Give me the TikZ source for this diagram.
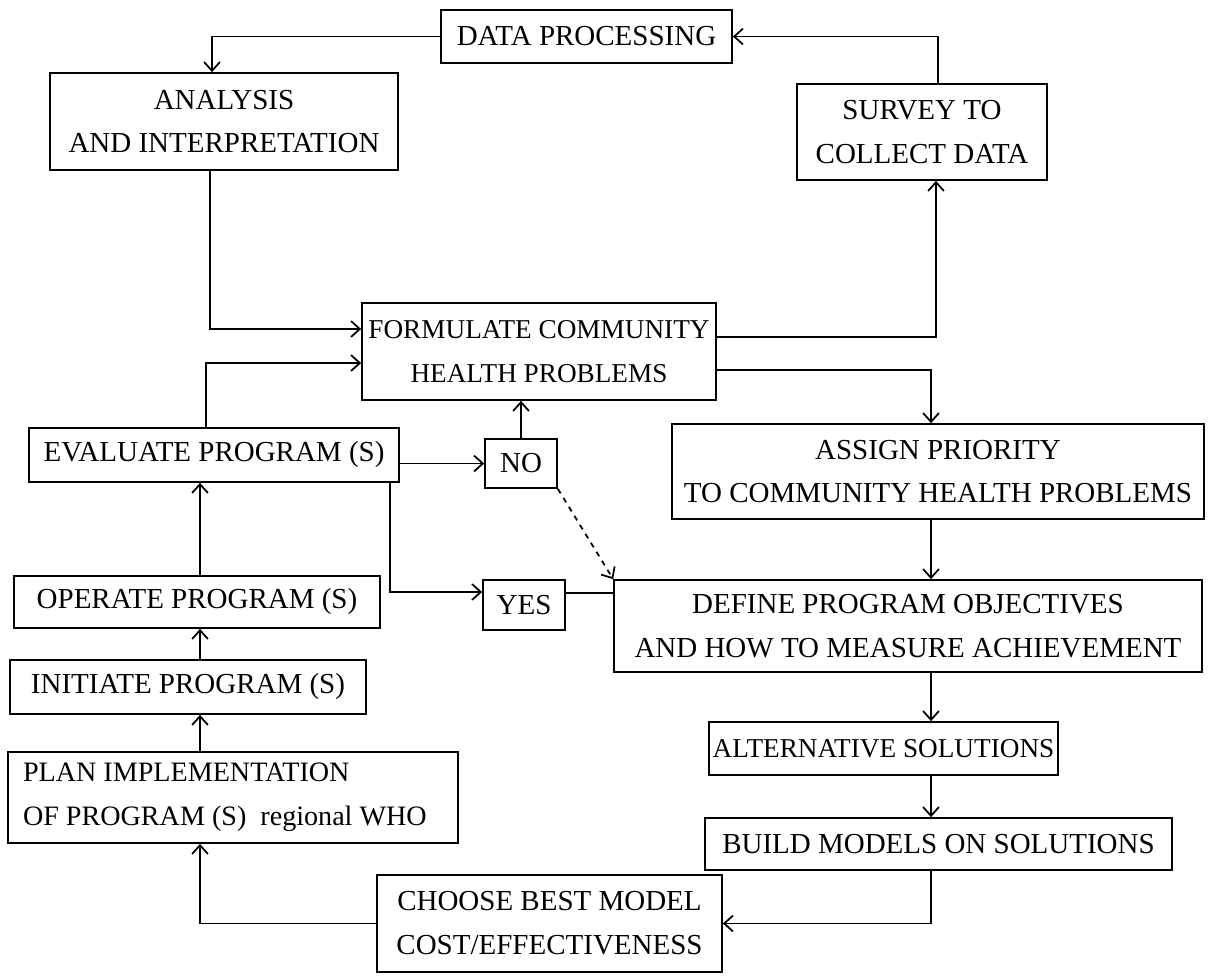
\documentclass[tikz,border=0pt]{standalone}
\usepackage{fontspec}
\setmainfont{Liberation Serif}
\usetikzlibrary{arrows.meta}

\tikzset{
	stage/.style={draw, line width=1pt, font=\fontsize{16.5}{25}\selectfont, align=center, inner sep=2pt},
	narrow/.style={font=\fontsize{15.5}{25}\selectfont},
	arr/.style={line width=1pt, ->, >={Straight Barb[length=5pt,width=9pt]}},
	link/.style={line width=1pt},
}

\begin{document}
\begin{tikzpicture}[x=0.02cm, y=-0.02cm]
	\useasboundingbox (0,0) rectangle (1214,975);
	% columns for the long vertical connectors
	\coordinate (lcol) at (200,0);
	\coordinate (rcol) at (931,0);

	\node[stage, minimum width=5.82cm, minimum height=1.06cm] (dp) at (586.5,36.5) {DATA PROCESSING};
	\node[stage, minimum width=6.96cm, minimum height=1.94cm] (ana) at (224,121.5) {ANALYSIS\\AND INTERPRETATION};
	\node[stage, minimum width=5.0cm, minimum height=1.92cm] (srv) at (922,132) {SURVEY TO\\COLLECT DATA};
	\node[stage, narrow, minimum width=7.08cm, minimum height=1.94cm] (form) at (539,351.5) {FORMULATE COMMUNITY\\HEALTH PROBLEMS};
	\node[stage, minimum width=7.4cm, minimum height=1.08cm] (eval) at (214,455) {EVALUATE PROGRAM (S)};
	\node[stage, minimum width=1.44cm, minimum height=0.98cm] (no) at (521,463.5) {NO};
	\node[stage, minimum width=10.64cm, minimum height=1.9cm] (asg) at (938,471.5) {ASSIGN PRIORITY\\TO COMMUNITY HEALTH PROBLEMS};
	\node[stage, minimum width=1.64cm, minimum height=1.0cm] (yes) at (524,605) {YES};
	\node[stage, minimum width=11.76cm, minimum height=1.84cm] (def) at (908,626) {DEFINE PROGRAM OBJECTIVES\\AND HOW TO MEASURE ACHIEVEMENT};
	\node[stage, minimum width=7.32cm, minimum height=1.04cm] (op) at (197,602) {OPERATE PROGRAM (S)};
	\node[stage, minimum width=7.12cm, minimum height=1.08cm] (ini) at (188,687) {INITIATE PROGRAM (S)};
	\node[stage, narrow, minimum width=6.7cm, minimum height=1.06cm] (alt) at (883.5,748.5) {ALTERNATIVE SOLUTIONS};
	\node[stage, align=flush left, font=\fontsize{16}{25}\selectfont, text width=8.4cm, inner xsep=0.3cm, minimum height=1.82cm] (plan) at (233,797.5) {PLAN IMPLEMENTATION\\OF PROGRAM (S) \ regional WHO};
	\node[stage, minimum width=9.34cm, minimum height=1.04cm] (bld) at (938.5,844) {BUILD MODELS ON SOLUTIONS};
	\node[stage, minimum width=6.9cm, minimum height=1.94cm] (cho) at (549.5,923.5) {CHOOSE BEST MODEL\\COST/EFFECTIVENESS};

	% top loop
	\draw[arr] ([xshift=0.32cm]srv.north) |- (dp.east);
	\draw[arr] (dp.west) -| ([xshift=-0.24cm]ana.north);
	\draw[arr] ([xshift=-0.28cm]ana.south) |- ([yshift=0.45cm]form.west);
	\draw[arr] ([yshift=0.29cm]form.east) -| ([xshift=0.28cm]srv.south);
	\draw[arr] ([yshift=-0.37cm]form.east) -| (asg.north -| rcol);

	% right column
	\draw[arr] (asg.south -| rcol) -- (def.north -| rcol);
	\draw[arr] (def.south -| rcol) -- (alt.north -| rcol);
	\draw[arr] (alt.south -| rcol) -- (bld.north -| rcol);
	\draw[arr] (bld.south -| rcol) |- (cho.east);

	% left column
	\draw[arr] (cho.west) -| (plan.south -| lcol);
	\draw[arr] (plan.north -| lcol) -- (ini.south -| lcol);
	\draw[arr] (ini.north -| lcol) -- (op.south -| lcol);
	\draw[arr] (op.north -| lcol) -- (eval.south -| lcol);
	\draw[arr] ([xshift=-0.16cm]eval.north) |- ([yshift=-0.23cm]form.west);

	% decision
	\draw[arr] (eval.east |- no.west) -- (no.west);
	\draw[arr] (no.north) -- (no.north |- form.south);
	\draw[arr] ([xshift=-0.2cm]eval.south east) |- ([yshift=0.26cm]yes.west);
	\draw[link] ([yshift=0.24cm]yes.east) -- ([yshift=0.24cm]yes.east -| def.west);
	\draw[arr, dashed] (no.south east) -- (def.north west);
\end{tikzpicture}
\end{document}
